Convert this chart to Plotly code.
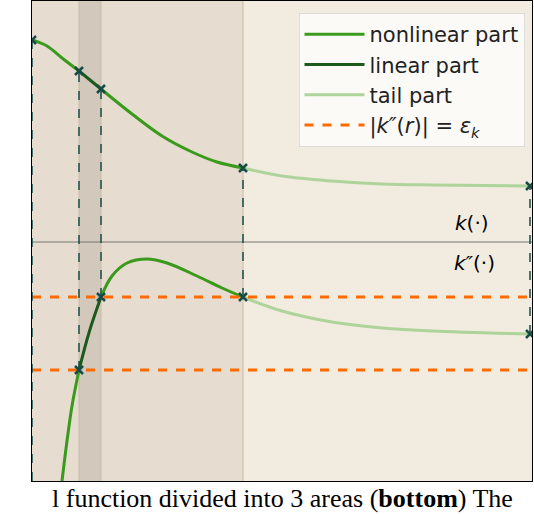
import plotly.graph_objects as go

# k(.) curve segments: (r, height)  heights measured upward from plot bottom
k_nl1_x = [0, 0.3, 0.6, 0.94]; k_nl1_y = [441, 435, 423, 410]
k_lin_x = [0.94, 1.38]; k_lin_y = [410, 392]
k_nl2_x = [1.38, 2.0, 2.6, 3.2, 3.7, 4.22]; k_nl2_y = [392, 367, 345, 329, 319, 313]
k_tail_x = [4.22, 5, 6, 7, 8, 9.96]; k_tail_y = [313, 305, 300, 297, 296, 295]
# k''(.) curve segments
d_nl1_x = [0.6, 0.7, 0.8, 0.94]; d_nl1_y = [0, 40, 75, 111]
d_lin_x = [0.94, 1.15, 1.38]; d_lin_y = [111, 150, 184]
d_nl2_x = [1.38, 1.6, 1.9, 2.3, 2.7, 3.3, 3.8, 4.22]; d_nl2_y = [184, 205, 218, 222, 218, 205, 193, 184]
d_tail_x = [4.22, 5, 6, 7, 8, 9.96]; d_tail_y = [184, 170, 159, 153, 150, 147]
eps_levels = [184, 111]
axis_level = 239
marks_k_x = [0, 0.94, 1.38, 4.22, 9.96]; marks_k_y = [441, 410, 392, 313, 295]
marks_d_x = [0.94, 1.38, 4.22, 9.96]; marks_d_y = [111, 184, 184, 147]
bounds = [0.94, 1.38, 4.22]

NL, LIN, TAIL, OR, MK = "#3a9a1c", "#1b5a1b", "#aed49c", "#ff6a00", "#174c45"
fig = go.Figure()
for x0, x1, c in [(0, bounds[0], "#e6dccf"), (bounds[0], bounds[1], "#d2c9bc"),
                  (bounds[1], bounds[2], "#e6dccf"), (bounds[2], 10, "#f2ebdf")]:
    fig.add_shape(type="rect", x0=x0, x1=x1, y0=0, y1=480, fillcolor=c, line_width=0, layer="below")
for b in bounds:
    fig.add_shape(type="line", x0=b, x1=b, y0=0, y1=480, line=dict(color="#c8bba8", width=1), layer="below")
fig.add_shape(type="line", x0=0, x1=10, y0=axis_level, y1=axis_level, line=dict(color="#777", width=1))
fig.add_shape(type="line", x0=0, x1=0, y0=0, y1=marks_k_y[0], line=dict(color=MK, width=1.5, dash="dash"))
for i, x in enumerate(marks_d_x):
    fig.add_shape(type="line", x0=x, x1=x, y0=marks_d_y[i], y1=marks_k_y[i + 1],
                  line=dict(color=MK, width=1.5, dash="dash"))

def seg(x, y, c, name=None, show=False):
    fig.add_trace(go.Scatter(x=x, y=y, mode="lines", line=dict(color=c, width=3, shape="spline"),
                             name=name, showlegend=show, hoverinfo="skip"))

seg(k_nl1_x, k_nl1_y, NL, "nonlinear part", True)
seg(k_nl2_x, k_nl2_y, NL); seg(d_nl1_x, d_nl1_y, NL); seg(d_nl2_x, d_nl2_y, NL)
seg(k_lin_x, k_lin_y, LIN, "linear part", True); seg(d_lin_x, d_lin_y, LIN)
seg(k_tail_x, k_tail_y, TAIL, "tail part", True); seg(d_tail_x, d_tail_y, TAIL)
for i, e in enumerate(eps_levels):
    fig.add_trace(go.Scatter(x=[0, 10], y=[e, e], mode="lines", line=dict(color=OR, width=3, dash="dash"),
                             name="|<i>k″</i>(<i>r</i>)| = <i>ε<sub>k</sub></i>", showlegend=(i == 0)))
fig.add_trace(go.Scatter(x=marks_k_x + marks_d_x, y=marks_k_y + marks_d_y, mode="markers",
                         marker=dict(symbol="x-thin", size=8, line=dict(color=MK, width=2.5)), showlegend=False))
fig.add_annotation(x=8.8, y=258, text="<i>k</i>(·)", showarrow=False, font=dict(size=20, color="black"))
fig.add_annotation(x=8.85, y=218, text="<i>k″</i>(·)", showarrow=False, font=dict(size=20, color="black"))
fig.add_annotation(x=0.5, xref="paper", y=0, yref="paper", yshift=-34, yanchor="bottom",
                   text="l function divided into 3 areas (<b>bottom</b>) The", showarrow=False,
                   font=dict(size=26, family="Liberation Serif", color="black"))
fig.update_layout(width=534, height=514, margin=dict(l=32, r=2, t=1, b=33, autoexpand=False),
                  paper_bgcolor="white", plot_bgcolor="#f2ebdf",
                  font=dict(family="DejaVu Sans", size=21, color="#222"),
                  legend=dict(x=0.985, y=0.975, xanchor="right", yanchor="top", bgcolor="rgba(253,252,250,0.9)",
                              bordercolor="#ddd", borderwidth=1, tracegroupgap=0, itemwidth=60))
fig.update_xaxes(range=[0, 10], showticklabels=False, showgrid=False, zeroline=False,
                 showline=True, linecolor="black", mirror=True, ticks="")
fig.update_yaxes(range=[0, 480], showticklabels=False, showgrid=False, zeroline=False,
                 showline=True, linecolor="black", mirror=True, ticks="")
fig.write_html("out.html", post_script="document.body.style.margin='0';",
               config={"displayModeBar": False})
